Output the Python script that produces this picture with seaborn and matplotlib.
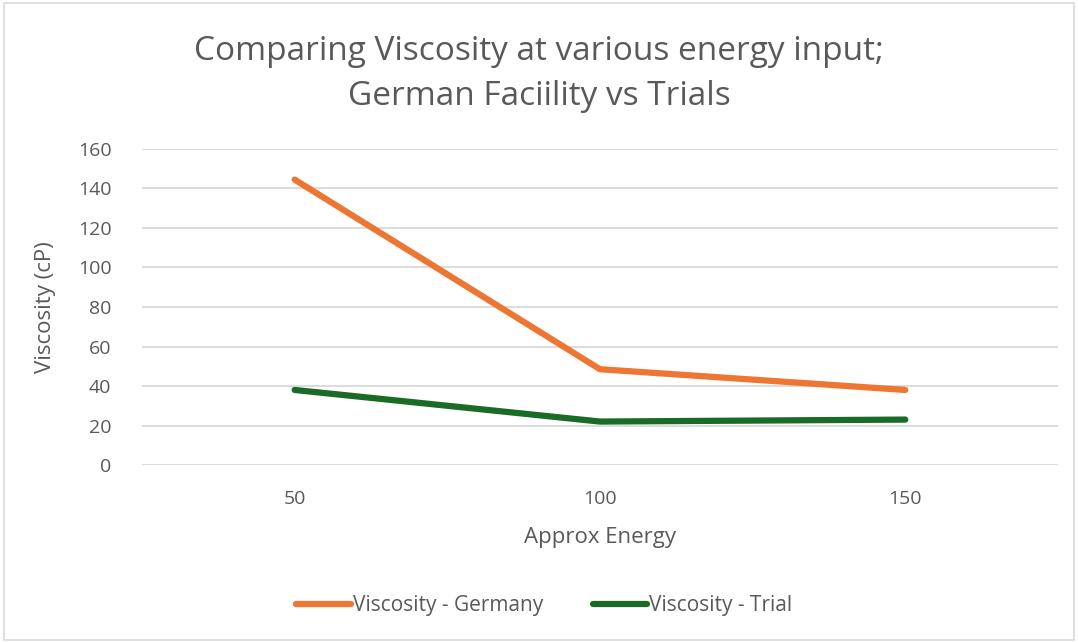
import pandas as pd
import matplotlib.pyplot as plt
import seaborn as sns
from matplotlib.patches import Rectangle

# Data
energy = ["50", "100", "150"]
germany = [144.5, 48.5, 38.0]
trial = [38.0, 22.0, 23.0]

df = pd.DataFrame({
    "Approx Energy": energy * 2,
    "Viscosity (cP)": germany + trial,
    "series": ["Viscosity - Germany"] * 3 + ["Viscosity - Trial"] * 3,
})

sns.set_theme(style="white")
plt.rcParams["font.family"] = ["Open Sans", "DejaVu Sans"]
text_color = "#595959"

fig = plt.figure(figsize=(10.78, 6.43), dpi=100)
ax = fig.add_axes([0.1317, 0.2768, 0.8497, 0.4915])

sns.lineplot(data=df, x="Approx Energy", y="Viscosity (cP)", hue="series",
             palette=["#ED7633", "#1A6B25"], linewidth=4.5, sort=False,
             solid_capstyle="round", ax=ax)

ax.set_xlim(-0.5, 2.5)
ax.set_ylim(0, 160)
ax.set_yticks(range(0, 161, 20))
ax.yaxis.grid(True, color="#D9D9D9", linewidth=1.3)
ax.set_axisbelow(True)
for s in ax.spines.values():
    s.set_visible(False)
ax.tick_params(axis="both", length=0, labelsize=14, colors=text_color)
ax.tick_params(axis="y", pad=22)
ax.tick_params(axis="x", pad=18)
ax.set_xlabel("Approx Energy", fontsize=16, color=text_color, labelpad=14)
ax.set_ylabel("Viscosity (cP)", fontsize=16, color=text_color, labelpad=16)

fig.suptitle("Comparing Viscosity at various energy input;\nGerman Faciility vs Trials",
             fontsize=24, color=text_color, y=0.945, linespacing=1.45)

handles, labels = ax.get_legend_handles_labels()
ax.legend(handles, labels, loc="center", bbox_to_anchor=(0.505, 0.058),
          bbox_transform=fig.transFigure, ncol=2, frameon=False,
          fontsize=15, labelcolor=text_color, handlelength=2.6,
          handletextpad=0.1, columnspacing=2.4)

fig.patches.append(Rectangle((0.004, 0.004), 0.992, 0.992, transform=fig.transFigure,
                             fill=False, edgecolor="#D9D9D9", linewidth=1.2))

fig.savefig("out.png", dpi=100)
